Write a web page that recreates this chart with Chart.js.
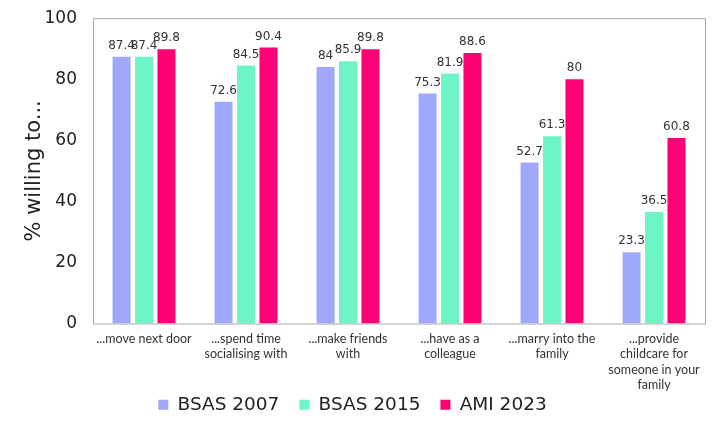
<!DOCTYPE html>
<html>
<head>
<meta charset="utf-8">
<script src="https://cdn.jsdelivr.net/npm/chart.js@4"></script>
<style>
  html, body { margin: 0; padding: 0; background: #fff; }
  #wrap { width: 720px; height: 442px; }
</style>
</head>
<body>
<div id="wrap"><canvas id="barChart"></canvas></div>
<script>
// chart data
const categories = [
  ['...move next door'],
  ['...spend time', 'socialising with'],
  ['...make friends', 'with'],
  ['...have as a', 'colleague'],
  ['...marry into the', 'family'],
  ['...provide', 'childcare for', 'someone in your', 'family']
];
const bsas2007 = [87.4, 72.6, 84, 75.3, 52.7, 23.3];
const bsas2015 = [87.4, 84.5, 85.9, 81.9, 61.3, 36.5];
const ami2023 = [89.8, 90.4, 89.8, 88.6, 80, 60.8];
const yTicks = [0, 20, 40, 60, 80, 100];

const WIDE = '"DejaVu Sans", sans-serif';
const NARROW = 'Lato, "Noto Sans", sans-serif';

// value labels above each bar
const valueLabels = {
  id: 'valueLabels',
  afterDatasetsDraw(chart) {
    const ctx = chart.ctx;
    ctx.save();
    ctx.font = '12px ' + WIDE;
    ctx.fillStyle = '#333';
    ctx.textAlign = 'center';
    ctx.textBaseline = 'bottom';
    chart.data.datasets.forEach((ds, i) => {
      chart.getDatasetMeta(i).data.forEach((bar, j) => {
        ctx.fillText(String(ds.data[j]), bar.x, bar.y - 5);
      });
    });
    ctx.restore();
  }
};

// grey frame round the plot area, legend pulled up under the labels
const frame = {
  id: 'frame',
  afterLayout(chart) {
    chart.legend.top -= 18;
    chart.legend.bottom -= 18;
  },
  afterDraw(chart) {
    const a = chart.chartArea;
    const ctx = chart.ctx;
    ctx.save();
    ctx.strokeStyle = '#a6a6a6';
    ctx.lineWidth = 1;
    ctx.strokeRect(a.left + 0.5, a.top + 0.5, a.right - a.left, a.bottom - a.top);
    ctx.restore();
  }
};

new Chart(document.getElementById('barChart').getContext('2d'), {
  type: 'bar',
  data: {
    labels: categories,
    datasets: [
      { label: 'BSAS 2007', data: bsas2007, backgroundColor: '#a0a8fb' },
      { label: 'BSAS 2015', data: bsas2015, backgroundColor: '#6ef5c6' },
      { label: 'AMI 2023', data: ami2023, backgroundColor: '#ff0075' }
    ]
  },
  options: {
    responsive: true,
    maintainAspectRatio: false,
    animation: false,
    datasets: { bar: { categoryPercentage: 0.66, barPercentage: 0.8 } },
    layout: { padding: { top: 9, right: 15, left: 0, bottom: 0 } },
    plugins: {
      legend: {
        position: 'bottom',
        labels: {
          font: { size: 18.5, family: WIDE },
          color: '#222',
          boxWidth: 10,
          boxHeight: 10,
          padding: 20
        }
      },
      tooltip: { enabled: false }
    },
    scales: {
      x: {
        grid: { display: false },
        border: { display: false },
        ticks: {
          font: { size: 12.5, family: NARROW, lineHeight: 1.22 },
          color: '#333',
          maxRotation: 0,
          autoSkip: false,
          padding: 0
        },
        afterFit(scale) { scale.height = 70; }
      },
      y: {
        min: 0,
        max: 100,
        afterBuildTicks(scale) { scale.ticks = yTicks.map(v => ({ value: v })); },
        grid: { display: false },
        border: { display: false },
        ticks: {
          font: { size: 17, family: WIDE },
          color: '#222',
          padding: 8
        },
        title: {
          display: true,
          text: '% willing to...',
          font: { size: 21, family: WIDE },
          color: '#222',
          padding: { top: 22, bottom: 0 }
        },
        afterFit(scale) { scale.width = 93; }
      }
    }
  },
  plugins: [valueLabels, frame]
});
</script>
</body>
</html>
